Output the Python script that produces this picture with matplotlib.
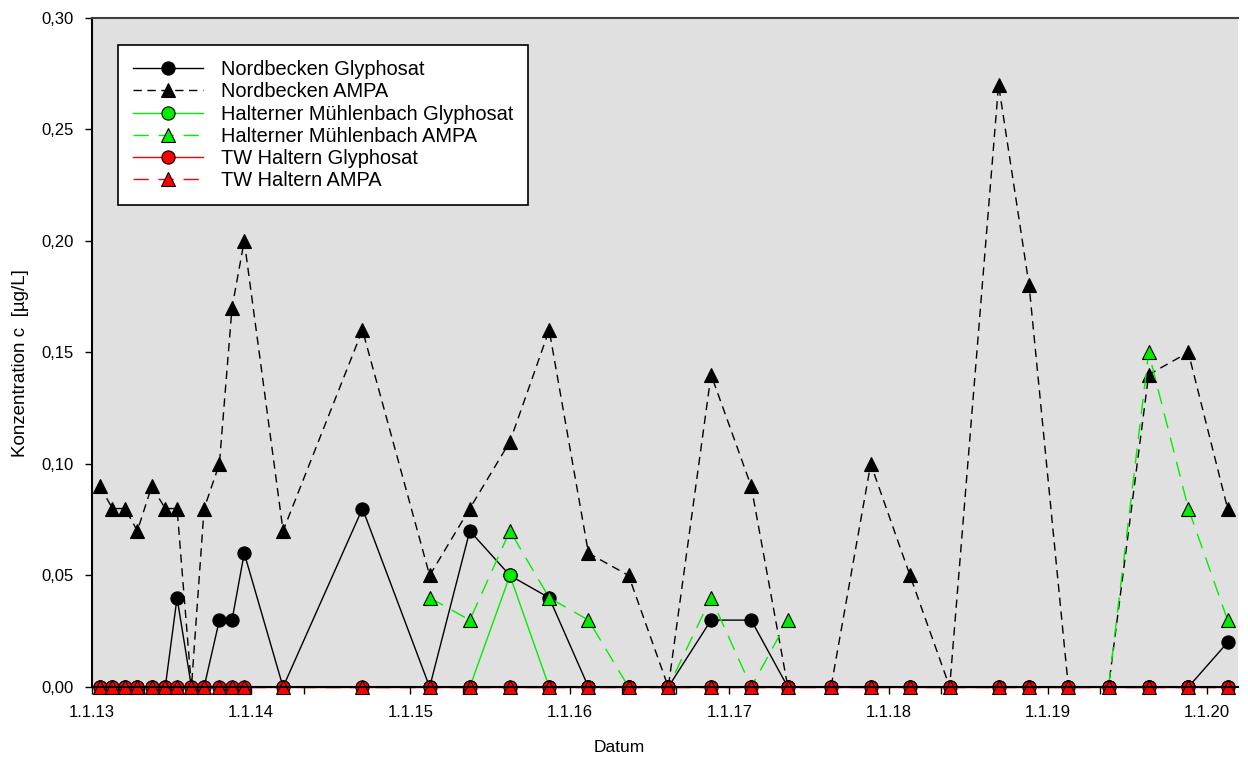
import datetime as dt
import matplotlib
matplotlib.use("Agg")
import matplotlib.pyplot as plt
import matplotlib.dates as mdates
from matplotlib.ticker import FuncFormatter, MultipleLocator
import numpy as np

plt.rcParams['font.family'] = ['Liberation Sans', 'DejaVu Sans']

# sampling dates
dates = [
    "2013-01-19", "2013-02-17", "2013-03-18", "2013-04-15", "2013-05-18",
    "2013-06-18", "2013-07-15", "2013-08-17", "2013-09-15", "2013-10-20",
    "2013-11-18", "2013-12-16", "2014-03-15", "2014-09-13", "2015-02-14",
    "2015-05-17", "2015-08-17", "2015-11-15", "2016-02-13", "2016-05-15",
    "2016-08-14", "2016-11-20", "2017-02-20", "2017-05-15", "2017-08-22",
    "2017-11-21", "2018-02-19", "2018-05-21", "2018-09-10", "2018-11-19",
    "2019-02-17", "2019-05-20", "2019-08-20", "2019-11-19", "2020-02-17",
]

nan = np.nan

nord_glyphosat = [0, 0, 0, 0, 0, 0, 0.04, 0, 0, 0.03, 0.03, 0.06, 0, 0.08, 0,
                  0.07, 0.05, 0.04, 0, 0, 0, 0.03, 0.03, 0, 0, 0, 0, 0, 0, 0,
                  0, 0, 0, 0, 0.02]
nord_ampa = [0.09, 0.08, 0.08, 0.07, 0.09, 0.08, 0.08, 0, 0.08, 0.10, 0.17, 0.20,
             0.07, 0.16, 0.05, 0.08, 0.11, 0.16, 0.06, 0.05, 0, 0.14, 0.09, 0,
             0, 0.10, 0.05, 0, 0.27, 0.18, 0, 0, 0.14, 0.15, 0.08]
hmb_glyphosat = [nan] * 14 + [0, 0, 0.05, 0, 0, 0, 0, 0, 0, 0] + [nan] * 7 + [0, 0, 0, 0]
hmb_ampa = [nan] * 14 + [0.04, 0.03, 0.07, 0.04, 0.03, 0, 0, 0.04, 0, 0.03] + [nan] * 7 + [0, 0.15, 0.08, 0.03]
tw_glyphosat = [0] * 35
tw_ampa = [0] * 35

x = [dt.datetime.strptime(d, "%Y-%m-%d") for d in dates]

fig = plt.figure(figsize=(12.48, 7.6), dpi=100)
ax = fig.add_axes([0.0737, 0.096, 0.918, 0.8807])
ax.set_facecolor('#e0e0e0')

lw = 1.0
ms_c = 9.5
ms_t = 10
ax.plot(x, nord_glyphosat, color='black', lw=lw, ls='-', marker='o', ms=ms_c,
        mfc='black', mec='black', mew=0.8, label='Nordbecken Glyphosat')
ax.plot(x, nord_ampa, color='black', lw=lw, ls=(0, (6, 4)), marker='^', ms=ms_t,
        mfc='black', mec='black', mew=0.8, label='Nordbecken AMPA')
ax.plot(x, hmb_glyphosat, color='#00ee00', lw=lw, ls='-', marker='o', ms=ms_c,
        mfc='#00ee00', mec='black', mew=0.8, label='Halterner Mühlenbach Glyphosat')
ax.plot(x, hmb_ampa, color='#00ee00', lw=lw, ls=(0, (11, 7)), marker='^', ms=ms_t,
        mfc='#00ee00', mec='black', mew=0.8, label='Halterner Mühlenbach AMPA')
ax.plot(x, tw_glyphosat, color='#ff0000', lw=lw, ls='-', marker='o', ms=ms_c,
        mfc='#ff0000', mec='black', mew=0.8, label='TW Haltern Glyphosat', clip_on=False)
ax.plot(x, tw_ampa, color='#ff0000', lw=lw, ls=(0, (11, 7)), marker='^', ms=ms_t,
        mfc='#ff0000', mec='black', mew=0.8, label='TW Haltern AMPA', clip_on=False)

ax.set_xlim(dt.datetime(2013, 1, 1), dt.datetime(2020, 3, 11))
ax.set_ylim(0, 0.30)

ax.xaxis.set_major_locator(mdates.YearLocator())
ax.xaxis.set_minor_locator(mdates.MonthLocator(bymonth=[5, 9]))
ax.xaxis.set_major_formatter(FuncFormatter(
    lambda v, pos: (lambda d: f"{d.day}.{d.month}.{d.year % 100:02d}")(mdates.num2date(v))))
ax.yaxis.set_major_locator(MultipleLocator(0.05))
ax.yaxis.set_major_formatter(FuncFormatter(lambda v, pos: f"{v:.2f}".replace('.', ',')))

ax.tick_params(axis='both', which='both', direction='out', length=5, width=1,
               labelsize=12, colors='black')
ax.tick_params(axis='x', pad=8)
ax.tick_params(axis='y', pad=8)

for side in ['left', 'bottom', 'top']:
    ax.spines[side].set_linewidth(1.5)
ax.spines['top'].set_color('#404040')
ax.spines['right'].set_visible(False)

ax.set_xlabel('Datum', fontsize=12.5, va='center')
ax.xaxis.set_label_coords(0.46, -0.091)
ax.set_ylabel('Konzentration c  [µg/L]', fontsize=13.5, va='center')
ax.yaxis.set_label_coords(-0.062, 0.484)

leg = ax.legend(loc='upper left', bbox_to_anchor=(0.0227, 0.9588), borderaxespad=0,
                fontsize=14.4, frameon=True, fancybox=False, edgecolor='black',
                facecolor='white', framealpha=1, handlelength=3.5, handletextpad=0.9,
                labelspacing=0.16, borderpad=0.75, numpoints=1)
leg.get_frame().set_linewidth(1.2)

fig.savefig('out.png', dpi=100)
